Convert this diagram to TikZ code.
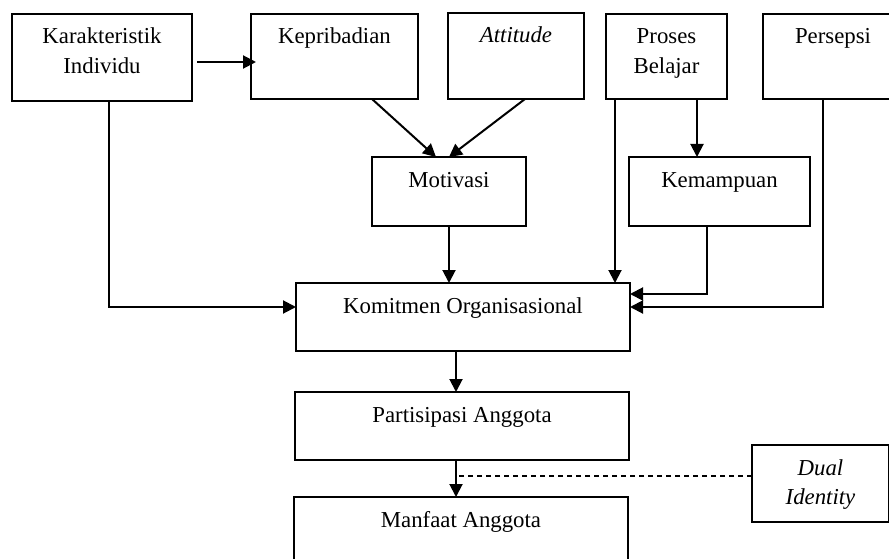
\documentclass[tikz,border=0pt]{standalone}
\usepackage{fontspec}
\setmainfont{Liberation Serif}
\usepackage{tikz}
\usetikzlibrary{arrows.meta, positioning, calc}

\begin{document}
\begin{tikzpicture}[x=1pt, y=-1pt,
			box/.style={rectangle, draw=black, line width=1.4pt, anchor=north west, align=center,
				inner xsep=0pt, inner ysep=0pt, outer sep=0pt, text height=30pt,
				font=\fontsize{22.8}{30}\selectfont},
			arr/.style={-{Triangle[length=13pt, width=13pt]}, draw=black, line width=2pt},
			dline/.style={draw=black, line width=1.3pt, dash pattern=on 5pt off 4pt}
			]
			\path[use as bounding box, clip] (0,0) rectangle (889,559);
			% top row
			\node[box, minimum width=180pt, text height=60pt, text depth=27pt] (kar) at (12,14) {Karakteristik\\Individu};
			\node[box, minimum width=167pt, text depth=55pt] (kep) at (251,14) {Kepribadian};
			\node[box, minimum width=136pt, text depth=56pt] (att) at (448,13) {\textit{Attitude}};
			\node[box, minimum width=121pt, text height=60pt, text depth=25pt] (pro) at (606,14) {Proses\\Belajar};
			\node[box, minimum width=140pt, text depth=55pt] (per) at (763,14) {Persepsi};
			% middle
			\node[box, minimum width=154pt, text depth=39pt] (mot) at (372,157) {Motivasi};
			\node[box, minimum width=181pt, text depth=39pt] (kem) at (629,157) {Kemampuan};
			\node[box, minimum width=334pt, text depth=38pt] (kom) at (296,283) {Komitmen Organisasional};
			% bottom
			\node[box, minimum width=334pt, text depth=38pt] (par) at (295,392) {Partisipasi Anggota};
			\node[box, minimum width=334pt, text depth=60pt] (man) at (294,497) {Manfaat Anggota};
			\node[box, minimum width=137pt, text height=59pt, text depth=18pt,
				font=\fontsize{22.8}{29}\selectfont] (dual) at (752,445) {\textit{Dual}\\\textit{Identity}};
			
			\draw[arr] ([xshift=5pt,yshift=-4.5pt]kar.east) -- ([xshift=5pt,yshift=-4.5pt]kar.east -| kep.west);
			\draw[arr] (kep.south -| mot.west) -- ([xshift=-13pt]mot.north);
			\draw[arr] ([xshift=9pt]att.south) -- (mot.north);
			\draw[arr] ([xshift=30.5pt]pro.south) -- ([xshift=30.5pt]pro.south |- kem.north);
			\draw[arr] ([xshift=9pt]pro.south west) -- ([xshift=9pt]pro.south west |- kom.north);
			\draw[arr] (mot.south) -- (mot.south |- kom.north);
			\draw[arr] ([xshift=7pt]kar.south) |- ([yshift=10pt]kom.west);
			\draw[arr] ([xshift=-12.5pt]kem.south) |- ([yshift=23pt]kom.east);
			\draw[arr] ([xshift=-10pt]per.south) |- ([yshift=10pt]kom.east);
			\draw[arr] ([xshift=-7pt]kom.south) -- ([xshift=-7pt]kom.south |- par.north);
			\coordinate (pm) at ([xshift=-6pt]par.south);
			\draw[arr] (pm) -- (pm |- man.north);
			\draw[dline] ([yshift=7.5pt]dual.west) -- ([yshift=7.5pt]dual.west -| pm);
		\end{tikzpicture}
\end{document}
